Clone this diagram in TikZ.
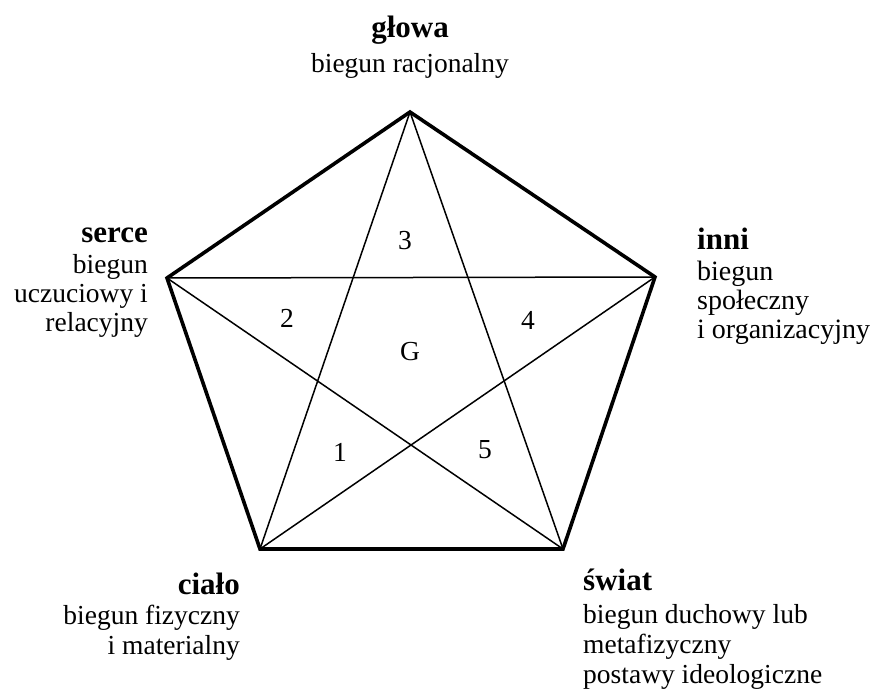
\documentclass[tikz,border=0pt]{standalone}
\usepackage{fontspec}
\setmainfont{Liberation Serif}
\usepackage{tikz}
\newcommand{\pnm}{\fontsize{31}{33}\selectfont\bfseries}

\begin{document}
\begin{tikzpicture}[x=1pt, y=-1pt,
  edge/.style={line width=3.6pt, line join=miter},
  ray/.style={line width=1.5pt},
  pole/.style={inner sep=0pt, font=\fontsize{27.5}{30}\selectfont},
  num/.style={inner sep=1pt, font=\fontsize{27.5}{30}\selectfont}
]
  \useasboundingbox (0,0) rectangle (871,691);

  % Pentagon corners
  \coordinate (gl) at (410,112);
  \coordinate (in) at (655,277);
  \coordinate (sw) at (563,549);
  \coordinate (ci) at (260,549);
  \coordinate (se) at (167,278);

  % Outline
  \draw[edge] (gl) -- (in) -- (sw) -- (ci) -- (se) -- cycle;

  % Star
  \draw[ray] (gl) -- (ci);
  \draw[ray] (gl) -- (sw);
  \draw[ray] (se) -- (in);
  \draw[ray] (se) -- (sw);
  \draw[ray] (in) -- (ci);

  % Fields
  \node[num] (n3) at (405,241) {3};
  \node[num] (n2) at (287,318) {2};
  \node[num] (n4) at (528,320) {4};
  \node[num] (nG) at (410,352) {G};
  \node[num] (n1) at (340,452) {1};
  \node[num] (n5) at (485,450) {5};

  % Poles (anchored on the baseline of the last line)
  \node[pole, align=center, anchor=base] (glowa) at (410,72)
    {{\pnm głowa}\\[5pt]biegun racjonalny};
  \node[pole, align=right, anchor=base east,
        font=\fontsize{27.5}{29}\selectfont] (serce) at (148,331)
    {{\pnm serce}\\[2pt]biegun\\uczuciowy i\\relacyjny};
  \node[pole, align=left, anchor=base west,
        font=\fontsize{28}{29}\selectfont] (inni) at (697,338)
    {{\pnm inni}\\[2pt]biegun\\społeczny\\i organizacyjny};
  \node[pole, align=right, anchor=base east] (cialo) at (240,654)
    {{\pnm ciało}\\biegun fizyczny\\i materialny};
  \node[pole, align=left, anchor=base west,
        font=\fontsize{27.5}{30}\selectfont] (swiat) at (583,683)
    {{\pnm świat}\\[3pt]biegun duchowy lub\\metafizyczny\\postawy ideologiczne};
\end{tikzpicture}
\end{document}
